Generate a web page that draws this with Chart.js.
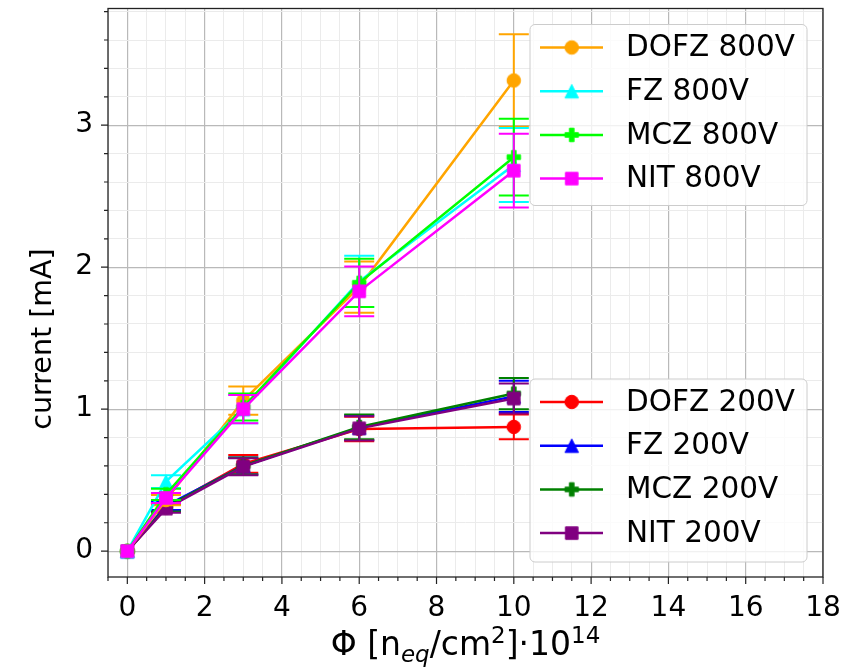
<!DOCTYPE html>
<html><head><meta charset="utf-8">
<script src="https://cdn.jsdelivr.net/npm/chart.js@4/dist/chart.umd.min.js"></script>
<style>html,body{margin:0;padding:0;background:#fff;}#wrap{width:844px;height:668px;}</style>
</head><body><div id="wrap"><canvas id="c" width="844" height="668"></canvas></div>
<script>
// ---- data ----
const fluence = [0, 1, 3, 6, 10];
const dofz800 = [0, 0.36, 1.06, 1.86, 3.315];
const dofz800Err = [0, 0.036, 0.10, 0.18, 0.325];
const fz800 = [0, 0.49, 1.00, 1.90, 2.72];
const fz800Err = [0, 0.045, 0.10, 0.18, 0.26];
const mcz800 = [0, 0.40, 1.015, 1.89, 2.775];
const mcz800Err = [0, 0.04, 0.095, 0.17, 0.27];
const nit800 = [0, 0.375, 1.00, 1.83, 2.68];
const nit800Err = [0, 0.035, 0.10, 0.175, 0.26];
const dofz200 = [0, 0.31, 0.615, 0.86, 0.875];
const dofz200Err = [0, 0.03, 0.062, 0.086, 0.087];
const fz200 = [0, 0.32, 0.60, 0.87, 1.09];
const fz200Err = [0, 0.03, 0.06, 0.087, 0.11];
const mcz200 = [0, 0.31, 0.60, 0.875, 1.11];
const mcz200Err = [0, 0.03, 0.06, 0.087, 0.11];
const nit200 = [0, 0.30, 0.595, 0.865, 1.075];
const nit200Err = [0, 0.03, 0.06, 0.086, 0.105];
const labels800 = ['DOFZ 800V', 'FZ 800V', 'MCZ 800V', 'NIT 800V'];
const labels200 = ['DOFZ 200V', 'FZ 200V', 'MCZ 200V', 'NIT 200V'];
const xMajorTicks = [0, 2, 4, 6, 8, 10, 12, 14, 16, 18];
const yMajorTicks = [0, 1, 2, 3];
const xMinorStep = 0.5;
const yMinorStep = 0.2;
const xRange = [-0.5, 18];
const yRange = [-0.182, 3.822];
const yTitle = 'current [mA]';

const FONT = '"DejaVu Sans", sans-serif';
const MS = 13.5;

function makeMarker(shape, color) {
  const c = document.createElement('canvas');
  const S = 18; c.width = S; c.height = S;
  const g = c.getContext('2d');
  const m = S / 2, h = MS / 2;
  g.fillStyle = color; g.strokeStyle = color; g.lineWidth = 1;
  g.beginPath();
  if (shape === 'o') { g.arc(m, m, h, 0, Math.PI * 2); }
  else if (shape === '^') { g.moveTo(m, m - h); g.lineTo(m - h, m + h); g.lineTo(m + h, m + h); g.closePath(); }
  else if (shape === 's') { g.rect(m - h + 0.5, m - h + 0.5, MS - 1, MS - 1); }
  else if (shape === 'P') {
    const a = MS / 6;
    const pts = [[-1,-3],[1,-3],[1,-1],[3,-1],[3,1],[1,1],[1,3],[-1,3],[-1,1],[-3,1],[-3,-1],[-1,-1]];
    pts.forEach((p, i) => { const x = m + p[0] * a, y = m + p[1] * a; i ? g.lineTo(x, y) : g.moveTo(x, y); });
    g.closePath();
  }
  g.fill(); g.stroke();
  return c;
}

function series(label, vals, errs, color, shape, order) {
  return {
    label, data: fluence.map((x, i) => ({ x, y: vals[i] })), errors: errs,
    borderColor: color, backgroundColor: color, borderWidth: 2.5,
    showLine: true, tension: 0, pointStyle: makeMarker(shape, color),
    pointRadius: 6, pointHoverRadius: 6, order
  };
}

const datasets = [
  series(labels200[0], dofz200, dofz200Err, '#ff0000', 'o', 8),
  series(labels200[1], fz200, fz200Err, '#0000ff', '^', 7),
  series(labels200[2], mcz200, mcz200Err, '#008000', 'P', 6),
  series(labels200[3], nit200, nit200Err, '#800080', 's', 5),
  series(labels800[0], dofz800, dofz800Err, '#ffa500', 'o', 4),
  series(labels800[1], fz800, fz800Err, '#00ffff', '^', 3),
  series(labels800[2], mcz800, mcz800Err, '#00ff00', 'P', 2),
  series(labels800[3], nit800, nit800Err, '#ff00ff', 's', 1)
];

const near = (v, arr) => arr.some(a => Math.abs(a - v) < 1e-6);
function minorValues(range, step) {
  const out = [];
  const k0 = Math.ceil(range[0] / step - 1e-9), k1 = Math.floor(range[1] / step + 1e-9);
  for (let k = k0; k <= k1; k++) out.push(Math.round(k * step * 1000) / 1000);
  return out;
}

const extras = {
  id: 'extras',
  afterDatasetDraw(chart, args) {
    const ds = chart.data.datasets[args.index];
    const { ctx, scales: { x, y } } = chart;
    ctx.save();
    ctx.strokeStyle = ds.borderColor; ctx.lineWidth = 2;
    ds.data.forEach((p, i) => {
      const e = ds.errors[i];
      if (!e) return;
      const px = x.getPixelForValue(p.x);
      const y1 = y.getPixelForValue(p.y + e), y2 = y.getPixelForValue(p.y - e);
      ctx.beginPath();
      ctx.moveTo(px, y1); ctx.lineTo(px, y2);
      ctx.moveTo(px - 15, y1); ctx.lineTo(px + 15, y1);
      ctx.moveTo(px - 15, y2); ctx.lineTo(px + 15, y2);
      ctx.stroke();
    });
    ctx.restore();
  },
  afterDraw(chart) {
    const { ctx, chartArea: a, scales: { x, y } } = chart;
    ctx.save();
    // spines
    ctx.strokeStyle = '#222'; ctx.lineWidth = 1.3;
    ctx.strokeRect(a.left, a.top, a.right - a.left, a.bottom - a.top);
    // tick marks
    ctx.lineWidth = 1.2;
    ctx.beginPath();
    minorValues(xRange, xMinorStep).forEach(v => {
      const px = x.getPixelForValue(v); const L = near(v, xMajorTicks) ? 7 : 4;
      ctx.moveTo(px, a.bottom); ctx.lineTo(px, a.bottom + L);
    });
    minorValues([0, yRange[1]], yMinorStep).forEach(v => {
      const py = y.getPixelForValue(v); const L = near(v, yMajorTicks) ? 7 : 4;
      ctx.moveTo(a.left, py); ctx.lineTo(a.left - L, py);
    });
    ctx.stroke();

    // x title with sub/superscripts
    const big = '33px ' + FONT, small = '23px ' + FONT, subf = 'italic 23px ' + FONT;
    const parts = [
      { t: 'Φ [n', f: big, dy: 0 }, { t: 'eq', f: subf, dy: 7 },
      { t: '/cm', f: big, dy: 0 }, { t: '2', f: small, dy: -12 },
      { t: ']·10', f: big, dy: 0 }, { t: '14', f: small, dy: -12 }
    ];
    let total = 0;
    parts.forEach(p => { ctx.font = p.f; p.w = ctx.measureText(p.t).width; total += p.w; });
    let cx = (a.left + a.right) / 2 - total / 2;
    ctx.fillStyle = '#000'; ctx.textBaseline = 'alphabetic'; ctx.textAlign = 'left';
    parts.forEach(p => { ctx.font = p.f; ctx.fillText(p.t, cx, 655 + p.dy); cx += p.w; });

    // y title
    ctx.save();
    ctx.translate(51, 339); ctx.rotate(-Math.PI / 2);
    ctx.font = '28.5px ' + FONT; ctx.textAlign = 'center'; ctx.textBaseline = 'alphabetic';
    ctx.fillText(yTitle, 0, 0);
    ctx.restore();

    // legends
    const dsets = chart.data.datasets;
    function legend(bx, by, w, h, names) {
      ctx.save();
      ctx.beginPath();
      ctx.roundRect(bx, by, w, h, 5);
      ctx.fillStyle = 'rgba(255,255,255,0.8)'; ctx.fill();
      ctx.strokeStyle = '#cccccc'; ctx.lineWidth = 1; ctx.stroke();
      names.forEach((nm, i) => {
        const ds = dsets.find(d => d.label === nm);
        const ry = by + 23 + i * 43.7;
        ctx.strokeStyle = ds.borderColor; ctx.lineWidth = 2.5;
        ctx.beginPath(); ctx.moveTo(bx + 10, ry); ctx.lineTo(bx + 73, ry); ctx.stroke();
        const mk = ds.pointStyle;
        ctx.drawImage(mk, bx + 41.7 - mk.width / 2, ry - mk.height / 2);
        ctx.fillStyle = '#000'; ctx.font = '29.5px ' + FONT;
        ctx.textAlign = 'left'; ctx.textBaseline = 'middle';
        ctx.fillText(nm, bx + 96, ry + 1);
      });
      ctx.restore();
    }
    legend(a.right - 16 - 277, a.top + 16, 277, 181, labels800);
    legend(a.right - 16 - 277, a.bottom - 15 - 183, 277, 183, labels200);
    ctx.restore();
  }
};

function gridColor(ctx, majors) {
  const v = ctx.tick ? ctx.tick.value : null;
  return v !== null && near(v, majors) ? '#b9b9b9' : '#ebebeb';
}

new Chart(document.getElementById('c'), {
  type: 'scatter',
  data: { datasets },
  plugins: [extras],
  options: {
    responsive: false, animation: false, devicePixelRatio: 1,
    layout: { padding: { top: 6, right: 21, bottom: 0, left: 0 } },
    plugins: { legend: { display: false }, tooltip: { enabled: false } },
    scales: {
      x: {
        type: 'linear', min: xRange[0], max: xRange[1],
        afterBuildTicks: s => { s.ticks = minorValues(xRange, xMinorStep).map(v => ({ value: v })); },
        afterFit: s => { s.height = 91; s.paddingLeft = 0; s.paddingRight = 0; s.paddingTop = 0; s.paddingBottom = 0; },
        ticks: {
          autoSkip: false, maxRotation: 0, minRotation: 0, padding: 15, color: '#000',
          font: { family: FONT, size: 28 },
          callback: v => near(v, xMajorTicks) ? String(Math.round(v)) : ''
        },
        grid: { drawTicks: false, color: c => gridColor(c, xMajorTicks), lineWidth: c => (c.tick && near(c.tick.value, xMajorTicks)) ? 1.2 : 1 },
        border: { display: false }
      },
      y: {
        type: 'linear', min: yRange[0], max: yRange[1],
        afterBuildTicks: s => { s.ticks = minorValues([0, yRange[1]], yMinorStep).map(v => ({ value: v })); },
        afterFit: s => { s.width = 108; s.paddingLeft = 0; s.paddingRight = 0; s.paddingTop = 0; s.paddingBottom = 0; },
        ticks: {
          autoSkip: false, padding: 15, color: '#000',
          font: { family: FONT, size: 28 },
          callback: v => near(v, yMajorTicks) ? String(Math.round(v)) : ''
        },
        grid: { drawTicks: false, color: c => gridColor(c, yMajorTicks), lineWidth: c => (c.tick && near(c.tick.value, yMajorTicks)) ? 1.2 : 1 },
        border: { display: false }
      }
    }
  }
});
</script></body></html>
